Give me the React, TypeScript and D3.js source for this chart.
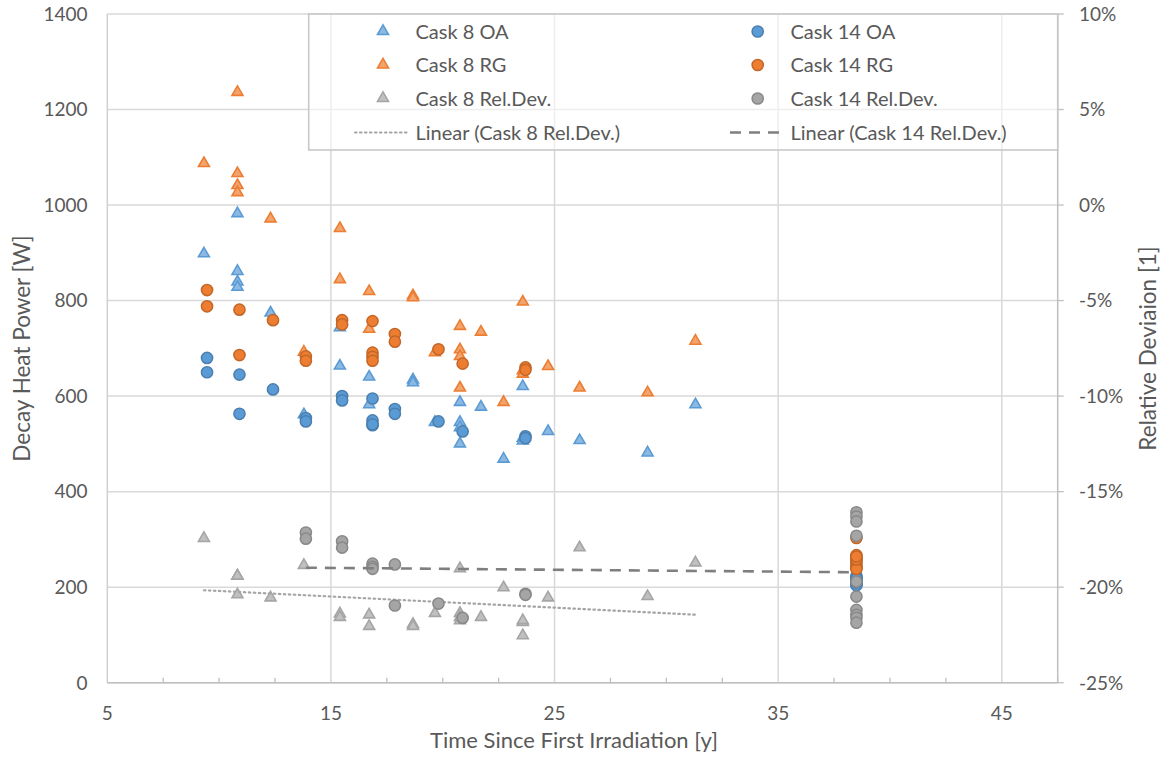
import * as d3 from 'd3';

// Cask 8 (triangles) – years, OA / RG decay heat [W], relative deviation
const cask8Years = [9.32, 10.82, 10.82, 10.82, 10.82, 12.3, 13.79, 15.4, 15.4, 16.71, 16.71, 18.67, 18.67, 19.65, 20.77, 20.77, 20.77, 20.77, 21.71, 22.72, 23.58, 23.58, 23.58, 24.71, 26.12, 29.16, 31.3];
const cask8OA = [900, 984, 863, 841, 830, 776, 563, 745, 665, 642, 584, 636, 630, 547, 589, 547, 536, 502, 579, 470, 622, 514, 508, 528, 509, 483, 584];
const cask8RG = [1089, 1238, 1068, 1043, 1028, 973, 694, 953, 846, 821, 742, 812, 808, 693, 748, 699, 685, 619, 736, 589, 799, 655, 648, 664, 619, 609, 717];
const cask8RelDev = [-0.174, -0.1937, -0.1937, -0.1937, -0.2035, -0.2051, -0.1881, -0.2135, -0.2153, -0.22, -0.214, -0.219, -0.22, -0.2132, -0.2132, -0.217, -0.2153, -0.1898, -0.2153, -0.1998, -0.2249, -0.218, -0.217, -0.2051, -0.1789, -0.2044, -0.1868];

// Cask 14 (circles)
const cask14Years = [9.46, 9.46, 10.91, 10.91, 12.41, 13.88, 13.88, 15.5, 15.5, 16.86, 16.86, 16.86, 16.86, 17.86, 17.86, 19.81, 20.89, 23.7, 23.7,
  38.5, 38.5, 38.5, 38.5, 38.5, 38.5, 38.5, 38.5, 38.5, 38.5];
const cask14OA = [680, 650, 645, 563, 614, 554, 547, 600, 591, 595, 549, 539, 541, 573, 563, 547, 526, 516, 512,
  224, 220, 216, 212, 208, 206, 204, 214, 218, 210];
const cask14RG = [822, 788, 781, 686, 759, 683, 674, 759, 750, 757, 691, 682, 674, 730, 714, 698, 668, 660, 655,
  303, 267, 262, 256, 250, 245, 240, 238, 258, 264];
const cask14RelDev = [null, null, null, null, null, -0.1714, -0.1746, -0.176, -0.1793, -0.1877, -0.1893, -0.1904, null, -0.1881, -0.2096, -0.2086, -0.2161, -0.2035, -0.204,
  -0.1608, -0.163, -0.1656, -0.1731, -0.1971, -0.2049, -0.2119, -0.2145, -0.216, -0.2186];

// linear trendlines (end points)
const trend8Years = [9.32, 31.3];
const trend8Dev = [-0.2016, -0.2144];
const trend14Years = [13.88, 38.5];
const trend14Dev = [-0.1898, -0.1922];

const xTicks = [5, 15, 25, 35, 45];
const yLeftTicks = [0, 200, 400, 600, 800, 1000, 1200, 1400];
const yRightTicks = [-0.25, -0.2, -0.15, -0.1, -0.05, 0, 0.05, 0.1];

const BLUE = '#5B9BD5';
const ORANGE = '#ED7D31';
const GRAY = '#A5A5A5';
const TEXT = '#595959';
const FONT = 'Lato, "Open Sans", sans-serif';

const left = 107.3, right = 1057.7, top = 14, bottom = 682.7;

const triPath = d3.symbol(d3.symbolTriangle, 52)() as string;

function Tri({ cx, cy, color }: { cx: number; cy: number; color: string }) {
  const light = d3.interpolateRgb(color, '#ffffff')(0.3);
  return <path d={triPath} transform={`translate(${cx},${cy + 0.8})`} fill={light} stroke={color} strokeWidth={1.6} />;
}

function Dot({ cx, cy, color }: { cx: number; cy: number; color: string }) {
  const dark = d3.color(color)!.darker(0.55).toString();
  return <circle cx={cx} cy={cy} r={5.6} fill={color} stroke={dark} strokeWidth={1.5} />;
}

export default function App() {
  const x = d3.scaleLinear().domain([5, 47.5]).range([left, right]);
  const yL = d3.scaleLinear().domain([0, 1400]).range([bottom, top]);
  const yR = d3.scaleLinear().domain([-0.25, 0.1]).range([bottom, top]);
  const pct = (v: number) => d3.format('.0%')(v).replace('\u2212', '-');
  const minorTicks = d3.range(5, 47.6, 2.5).filter((v) => !xTicks.includes(v));

  const line8 = d3.line<number>().x((_, i) => x(trend8Years[i])).y((d) => yR(d));
  const line14 = d3.line<number>().x((_, i) => x(trend14Years[i])).y((d) => yR(d));

  const legendRows = [31.5, 65, 98.5, 132.5];
  const legend1 = ['Cask 8 OA', 'Cask 8 RG', 'Cask 8 Rel.Dev.', 'Linear (Cask 8 Rel.Dev.)'];
  const legend2 = ['Cask 14 OA', 'Cask 14 RG', 'Cask 14 Rel.Dev.', 'Linear (Cask 14 Rel.Dev.)'];
  const legendColors = [BLUE, ORANGE, GRAY];

  return (
    <svg width={1166} height={763} style={{ position: 'absolute', left: 0, top: 0, background: '#fff' }} fontFamily={FONT}>
      {/* gridlines */}
      {yLeftTicks.map((t) => (
        <line key={'gy' + t} x1={left} x2={right} y1={yL(t)} y2={yL(t)} stroke="#d9d9d9" strokeWidth={1.5} />
      ))}
      {xTicks.slice(1).map((t) => (
        <line key={'gx' + t} x1={x(t)} x2={x(t)} y1={top} y2={bottom} stroke="#d9d9d9" strokeWidth={1.5} />
      ))}

      {/* axes */}
      <line x1={left} x2={left} y1={top} y2={bottom} stroke="#d0d0d0" strokeWidth={1.5} />
      <line x1={left} x2={right} y1={bottom} y2={bottom} stroke="#bfbfbf" strokeWidth={1.5} />
      <line x1={right} x2={right} y1={top} y2={bottom} stroke="#bfbfbf" strokeWidth={1.5} />
      {minorTicks.map((t) => (
        <line key={'mt' + t} x1={x(t)} x2={x(t)} y1={bottom} y2={bottom - 5} stroke="#bfbfbf" strokeWidth={1.3} />
      ))}
      {yRightTicks.map((t) => (
        <line key={'rt' + t} x1={right} x2={right + 6} y1={yR(t)} y2={yR(t)} stroke="#bfbfbf" strokeWidth={1.3} />
      ))}

      {/* tick labels */}
      {yLeftTicks.map((t) => (
        <text key={'yl' + t} x={87.5} y={yL(t)} dy="0.36em" textAnchor="end" fontSize={19} fill={TEXT}>{t}</text>
      ))}
      {yRightTicks.map((t) => (
        <text key={'yr' + t} x={1079} y={yR(t)} dy="0.36em" textAnchor="start" fontSize={19} fill={TEXT}>{pct(t)}</text>
      ))}
      {xTicks.map((t) => (
        <text key={'xl' + t} x={x(t)} y={720} textAnchor="middle" fontSize={19} fill={TEXT}>{t}</text>
      ))}

      {/* axis titles */}
      <text x={574} y={748} textAnchor="middle" fontSize={22} fill={TEXT}>Time Since First Irradiation [y]</text>
      <text transform="translate(30,348.5) rotate(-90)" textAnchor="middle" fontSize={22.5} fill={TEXT}>Decay Heat Power [W]</text>
      <text transform="translate(1156,348.5) rotate(-90)" textAnchor="middle" fontSize={22.5} fill={TEXT}>Relative Deviaion [1]</text>

      {/* legend box */}
      <rect x={308.7} y={top} width={right - 308.7} height={150 - top} fill="#fff" fillOpacity={0.55} stroke="#c8c8c8" strokeWidth={1.6} />

      {/* primary series */}
      <g>
        {cask8Years.map((yr, i) => <Tri key={'a' + i} cx={x(yr)} cy={yL(cask8OA[i])} color={BLUE} />)}
        {cask8Years.map((yr, i) => <Tri key={'b' + i} cx={x(yr)} cy={yL(cask8RG[i])} color={ORANGE} />)}
        {cask14Years.map((yr, i) => <Dot key={'c' + i} cx={x(yr)} cy={yL(cask14OA[i])} color={BLUE} />)}
        {cask14Years.map((yr, i) => <Dot key={'d' + i} cx={x(yr)} cy={yL(cask14RG[i])} color={ORANGE} />)}
      </g>

      {/* secondary series */}
      <g>
        {cask8Years.map((yr, i) => <Tri key={'e' + i} cx={x(yr)} cy={yR(cask8RelDev[i])} color={GRAY} />)}
        <path d={line8(trend8Dev) as string} fill="none" stroke="#a5a5a5" strokeWidth={2.2} strokeDasharray="1.5,3.5" strokeLinecap="round" />
        {cask14Years.map((yr, i) =>
          cask14RelDev[i] == null ? null : <Dot key={'f' + i} cx={x(yr)} cy={yR(cask14RelDev[i] as number)} color={GRAY} />
        )}
        <path d={line14(trend14Dev) as string} fill="none" stroke="#7f7f7f" strokeWidth={2.6} strokeDasharray="11,8" />
      </g>

      {/* legend entries */}
      {legend1.map((label, i) => (
        <g key={'l1' + i}>
          {i < 3 ? (
            <Tri cx={383} cy={legendRows[i] - 1} color={legendColors[i]} />
          ) : (
            <line x1={355} x2={407} y1={legendRows[i]} y2={legendRows[i]} stroke="#a5a5a5" strokeWidth={2.2} strokeDasharray="1.5,3.5" strokeLinecap="round" />
          )}
          <text x={415.5} y={legendRows[i]} dy="0.36em" fontSize={20} fill={TEXT}>{label}</text>
        </g>
      ))}
      {legend2.map((label, i) => (
        <g key={'l2' + i}>
          {i < 3 ? (
            <Dot cx={757.7} cy={legendRows[i]} color={legendColors[i]} />
          ) : (
            <line x1={730} x2={785} y1={legendRows[i]} y2={legendRows[i]} stroke="#7f7f7f" strokeWidth={2.6} strokeDasharray="11,8" />
          )}
          <text x={790.5} y={legendRows[i]} dy="0.36em" fontSize={20} fill={TEXT}>{label}</text>
        </g>
      ))}
    </svg>
  );
}
